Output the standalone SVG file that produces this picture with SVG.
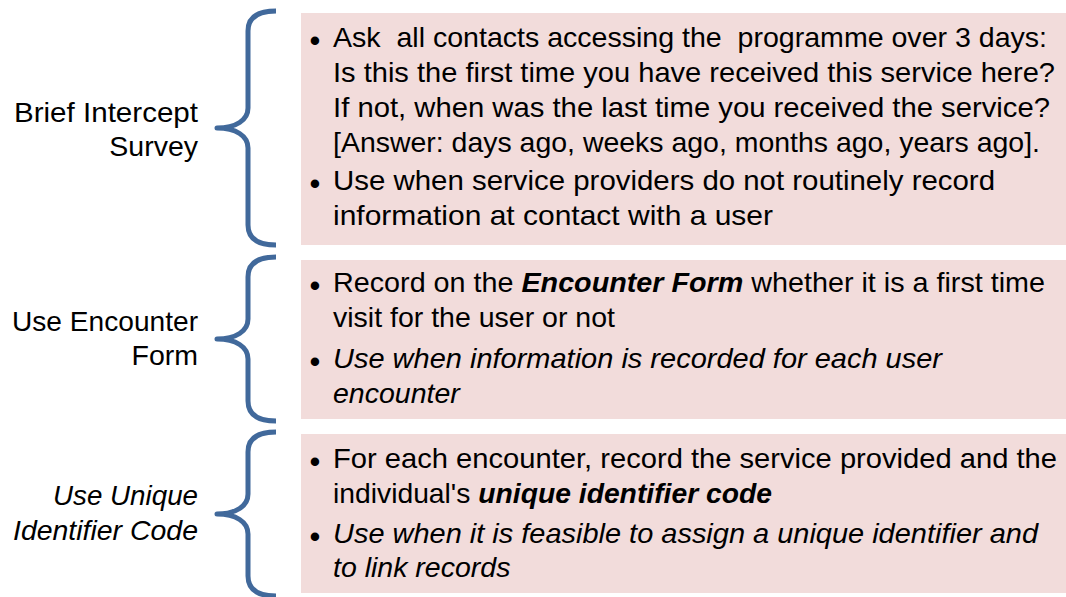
<svg xmlns="http://www.w3.org/2000/svg" width="1066" height="597" viewBox="0 0 1066 597">
<style>
.box{fill:#F2DCDB;stroke:none}
.brace{fill:none;stroke:#41699B;stroke-width:5;stroke-linecap:butt;stroke-linejoin:round}
text{font-family:"Liberation Sans",Arial,sans-serif;font-size:28.5px;fill:#000;white-space:pre}
.lbl{text-anchor:end}
.it{font-style:italic}
.bi{font-style:italic;font-weight:bold}
.bul{font-size:31px;text-anchor:middle}
</style>
<rect width="1066" height="597" fill="#FFFFFF"/>
<g id="connectors">
<path class="brace" d="M276,11 C258,11 248,17 248,31 L248,108 C248,120 236,128 217,128 C236,128 248,136 248,148 L248,225 C248,239 258,245 276,245"/>
<path class="brace" d="M276,257 C258,257 248,263 248,277 L248,319 C248,331 236,339 217,339 C236,339 248,347 248,359 L248,401 C248,415 258,421 276,421"/>
<path class="brace" d="M276,432 C258,432 248,438 248,452 L248,494 C248,506 236,514 217,514 C236,514 248,522 248,534 L248,576 C248,590 258,596 276,596"/>
</g>
<g id="label-brief">
<text class="lbl" x="198" y="122" textLength="184" lengthAdjust="spacingAndGlyphs">Brief Intercept</text>
<text class="lbl" x="198" y="156">Survey</text>
</g>
<g id="label-encounter">
<text class="lbl" x="198" y="331" textLength="186" lengthAdjust="spacingAndGlyphs">Use Encounter</text>
<text class="lbl" x="198" y="365">Form</text>
</g>
<g id="label-unique">
<text class="lbl it" x="198" y="505" textLength="145" lengthAdjust="spacingAndGlyphs">Use Unique</text>
<text class="lbl it" x="198" y="540" textLength="185" lengthAdjust="spacingAndGlyphs">Identifier Code</text>
</g>
<g id="box-brief">
<rect class="box" x="301" y="13" width="765" height="232"/>
<text class="bul" x="315" y="51">•</text>
<text x="333" y="47" textLength="714" lengthAdjust="spacingAndGlyphs">Ask  all contacts accessing the  programme over 3 days:</text>
<text x="333" y="82" textLength="722" lengthAdjust="spacingAndGlyphs">Is this the first time you have received this service here?</text>
<text x="333" y="117" textLength="717" lengthAdjust="spacingAndGlyphs">If not, when was the last time you received the service?</text>
<text x="333" y="152" textLength="707" lengthAdjust="spacingAndGlyphs">[Answer: days ago, weeks ago, months ago, years ago].</text>
<text class="bul" x="315" y="194">•</text>
<text x="333" y="190" textLength="662" lengthAdjust="spacingAndGlyphs">Use when service providers do not routinely record</text>
<text x="333" y="225" textLength="440" lengthAdjust="spacingAndGlyphs">information at contact with a user</text>
</g>
<g id="box-encounter">
<rect class="box" x="301" y="260" width="765" height="159"/>
<text class="bul" x="315" y="296">•</text>
<text x="333" y="292" textLength="712" lengthAdjust="spacingAndGlyphs">Record on the <tspan class="bi">Encounter Form</tspan> whether it is a first time</text>
<text x="333" y="327">visit for the user or not</text>
<text class="bul" x="315" y="372">•</text>
<text class="it" x="333" y="368" textLength="609" lengthAdjust="spacingAndGlyphs">Use when information is recorded for each user</text>
<text class="it" x="333" y="403">encounter</text>
</g>
<g id="box-unique">
<rect class="box" x="301" y="434" width="765" height="159"/>
<text class="bul" x="315" y="472">•</text>
<text x="333" y="468" textLength="724" lengthAdjust="spacingAndGlyphs">For each encounter, record the service provided and the</text>
<text x="333" y="503" textLength="439" lengthAdjust="spacingAndGlyphs">individual's <tspan class="bi">unique identifier code</tspan></text>
<text class="bul" x="315" y="547">•</text>
<text class="it" x="333" y="543" textLength="705" lengthAdjust="spacingAndGlyphs">Use when it is feasible to assign a unique identifier and</text>
<text class="it" x="333" y="577">to link records</text>
</g>
</svg>
